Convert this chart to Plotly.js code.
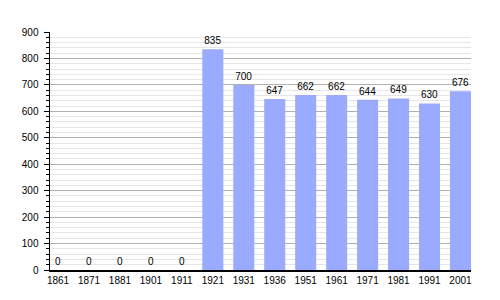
<!DOCTYPE html>
<html><head><meta charset="utf-8">
<script src="https://cdn.plot.ly/plotly-3.0.1.min.js"></script>
<style>html,body{margin:0;padding:0;background:#fff}#c{width:500px;height:300px}</style>
</head><body><div id="c"></div>
<script>
const years = ["1861","1871","1881","1901","1911","1921","1931","1936","1951","1961","1971","1981","1991","2001"];
const population = [0,0,0,0,0,835,700,647,662,662,644,649,630,676];
const yTicks = [0,100,200,300,400,500,600,700,800,900];

const idx = years.map((_, i) => i);
Plotly.newPlot('c', [{
  type: 'bar',
  x: idx,
  y: population,
  text: population.map(String),
  textposition: 'outside',
  cliponaxis: false,
  textfont: {family: 'Liberation Sans, Arial, sans-serif', size: 10, color: '#000'},
  marker: {color: '#99aaff', line: {width: 0}},
  width: 0.68,
  hoverinfo: 'none'
}], {
  width: 500, height: 300,
  margin: {l: 50, r: 29, t: 32, b: 30},
  paper_bgcolor: '#fff', plot_bgcolor: '#fff',
  showlegend: false,
  font: {family: 'Liberation Sans, Arial, sans-serif', size: 10, color: '#000'},
  xaxis: {
    range: [-0.26, 13.34],
    tickvals: idx, ticktext: years,
    ticks: '', showgrid: false, zeroline: false,
    showline: true, linecolor: '#000', linewidth: 1.5,
    tickfont: {size: 10}
  },
  yaxis: {
    range: [0, 900],
    tickvals: yTicks,
    ticks: 'outside', ticklen: 5, tickcolor: '#000',
    showline: true, linecolor: '#000', linewidth: 1.5,
    showgrid: true, gridcolor: '#b0b0b0', gridwidth: 1,
    zeroline: false,
    minor: {dtick: 20, ticks: 'outside', ticklen: 3, tickcolor: '#000', showgrid: true, gridcolor: '#e6e6e6', gridwidth: 1},
    tickfont: {size: 10},
    ticklabelstandoff: 3
  },
  bargap: 0.3
}, {staticPlot: true, displayModeBar: false});
</script></body></html>
